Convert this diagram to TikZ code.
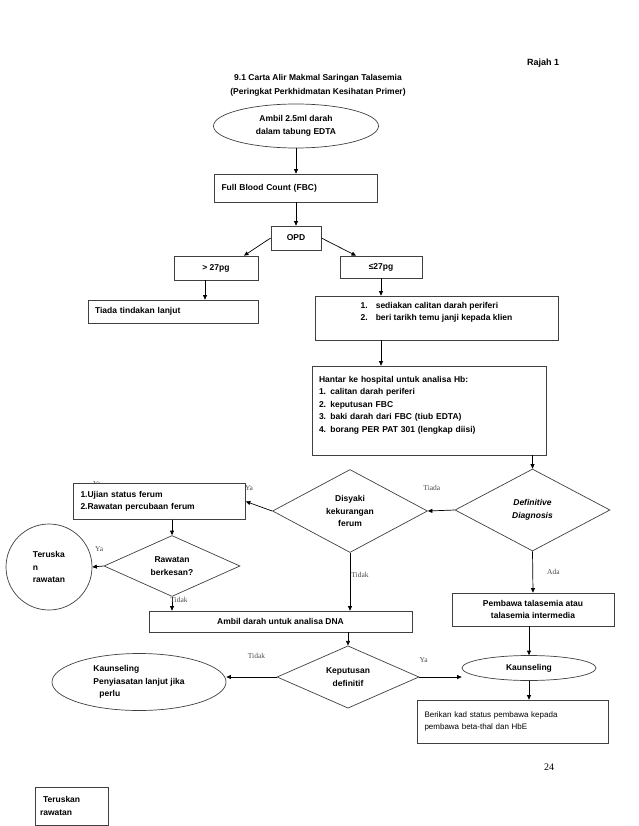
\documentclass[tikz,border=0pt]{standalone}
\usepackage{fontspec}
\setmainfont{Liberation Sans}
\newfontfamily\lblfont{Liberation Serif}
\usetikzlibrary{arrows.meta, shapes.geometric}

\begin{document}
\begin{tikzpicture}[
  x=1pt, y=-1pt,
  base/.style={draw=black!75, fill=white, line width=0.7pt, inner sep=0pt,
    font=\bfseries\fontsize{8.5}{12.5}\selectfont},
  box/.style={base, rectangle, inner xsep=7pt, align=left},
  cbox/.style={base, rectangle, align=center},
  oval/.style={base, ellipse, align=center},
  dec/.style={base, diamond, align=center},
  circ/.style={base, circle, align=left},
  edge/.style={-{Triangle[length=4.5pt,width=4pt]}, line width=0.7pt},
  lbl/.style={font=\lblfont\fontsize{7.5}{9}\selectfont, text=black!70, inner sep=0pt}
]
\useasboundingbox (0,0) rectangle (638,826);

% labels half hidden behind the boxes
\node[lbl] (yaA) at (97,484) {Ya};
\node[lbl] (yaB) at (249,488) {Ya};

\node[font=\bfseries\fontsize{9}{11}\selectfont] (rajah) at (543,63) {Rajah 1};
\node[align=center, font=\bfseries\fontsize{8.5}{14}\selectfont] (title) at (318,85)
  {9.1 Carta Alir Makmal Saringan Talasemia\\(Peringkat Perkhidmatan Kesihatan Primer)};

\node[oval, minimum width=165pt, minimum height=44pt] (ambil) at (296,126)
  {Ambil 2.5ml darah\\dalam tabung EDTA};
\node[box, text width=149pt, minimum height=28pt] (fbc) at (296,188) {Full Blood Count (FBC)};
\node[cbox, minimum width=50pt, minimum height=24pt] (opd) at (296,238) {OPD};
\node[cbox, minimum width=84pt, minimum height=24pt] (gt) at (216,268) {> 27pg};
\node[cbox, minimum width=82pt, minimum height=22pt] (le) at (381,267) {≤27pg};
\node[box, text width=156pt, minimum height=23pt] (tiada) at (173,311.5) {Tiada tindakan lanjut};
\node[cbox, minimum width=243pt, minimum height=44pt] (senarai) at (436.5,318)
  {\begin{tabular}{@{}l@{\hspace{8pt}}l@{}}
   1.&sediakan calitan darah periferi\\
   2.&beri tarikh temu janji kepada klien\\
   &\end{tabular}};
\node[box, text width=220pt, minimum height=89pt] (hantar) at (429,410.5)
  {Hantar ke hospital untuk analisa Hb:\\
   1. calitan darah periferi\\
   2. keputusan FBC\\
   3. baki darah dari FBC (tiub EDTA)\\
   4. borang PER PAT 301 (lengkap diisi)\\ \mbox{}};

\node[dec, minimum width=155pt, minimum height=82pt] (defin) at (532.5,510)
  {\textit{Definitive}\\\textit{Diagnosis}};
\node[dec, minimum width=155pt, minimum height=83pt] (disyaki) at (350,511)
  {Disyaki\\kekurangan\\ferum};
\node[box, text width=158pt, minimum height=36pt] (ujian) at (159.5,501.5)
  {1.Ujian status ferum\\2.Rawatan percubaan ferum};
\node[dec, minimum width=136pt, minimum height=56pt] (rawatan) at (172,566)
  {Rawatan\\berkesan?};
\node[circ, minimum size=86pt] (terusC) at (49,567) {Teruska\\n\\rawatan};
\node[cbox, minimum width=263pt, minimum height=21pt] (dna) at (280.5,621.5)
  {Ambil darah untuk analisa DNA};
\node[cbox, minimum width=162pt, minimum height=33pt] (pembawa) at (533,609.5)
  {Pembawa talasemia atau\\talasemia intermedia};
\node[oval, minimum width=134pt, minimum height=25pt] (kaun) at (529,668) {Kaunseling};
\node[dec, minimum width=142pt, minimum height=56pt] (keput) at (348,677)
  {Keputusan\\definitif};
\node[oval, align=left, minimum width=174pt, minimum height=57pt] (kaunL) at (139,682)
  {Kaunseling\\Penyiasatan lanjut jika\\\hspace*{6pt}perlu};
\node[box, font=\fontsize{8}{12}\selectfont, text width=177pt, minimum height=43pt] (berikan)
  at (513,721.5) {Berikan kad status pembawa kepada\\pembawa beta-thal dan HbE};
\node[box, inner xsep=5pt, text width=63pt, minimum height=38pt] (terusB) at (71.5,806)
  {\hspace*{3pt}Teruskan\\rawatan};

\node[font=\lblfont\fontsize{10}{12}\selectfont] (pg) at (549,767) {24};

% connectors
\draw[edge] (ambil) -- (fbc);
\draw[edge] (fbc) -- (opd);
\draw[edge] (opd.west) -- ([xshift=28pt]gt.north);
\draw[edge] (opd.east) -- ([xshift=-25pt]le.north);
\draw[edge] ([xshift=-11pt]gt.south) -- ([xshift=-11pt]gt.south |- tiada.north);
\draw[edge] (le) -- (le |- senarai.north);
\draw[edge] (senarai.south -| le) -- (hantar.north -| le);
\draw[edge] (hantar.south -| defin) -- (defin.north);
\draw[edge] (defin.west) -- node[lbl, pos=0.85, above=20pt] {Tiada} (disyaki.east);
\draw[edge] (disyaki.west) -- (ujian.east);
\draw[edge] (ujian.south -| rawatan) -- (rawatan.north);
\draw[edge] (rawatan.west) -- node[lbl, pos=0.4, above=14pt] {Ya} (terusC.east);
\draw[edge] (rawatan.south) -- node[lbl, pos=0.25, right=-2pt] {Tidak} (rawatan.south |- dna.north);
\draw[edge] (disyaki.south) -- node[lbl, pos=0.38, right=1pt] {Tidak} (disyaki.south |- dna.north);
\draw[edge] (defin.south) -- node[lbl, pos=0.5, right=14pt] {Ada} (pembawa.north);
\draw[edge] (pembawa.south -| kaun) -- (kaun.north);
\draw[edge] (dna.south -| keput) -- (keput.north);
\draw[edge] (keput.east) -- node[lbl, pos=0.1, above=14pt] {Ya} (keput.east -| kaun.west);
\draw[edge] (keput.west) -- node[lbl, pos=0.4, above=18pt] {Tidak} (keput.west -| kaunL.east);
\draw[edge] (kaun.south) -- (kaun.south |- berikan.north);
\end{tikzpicture}
\end{document}
